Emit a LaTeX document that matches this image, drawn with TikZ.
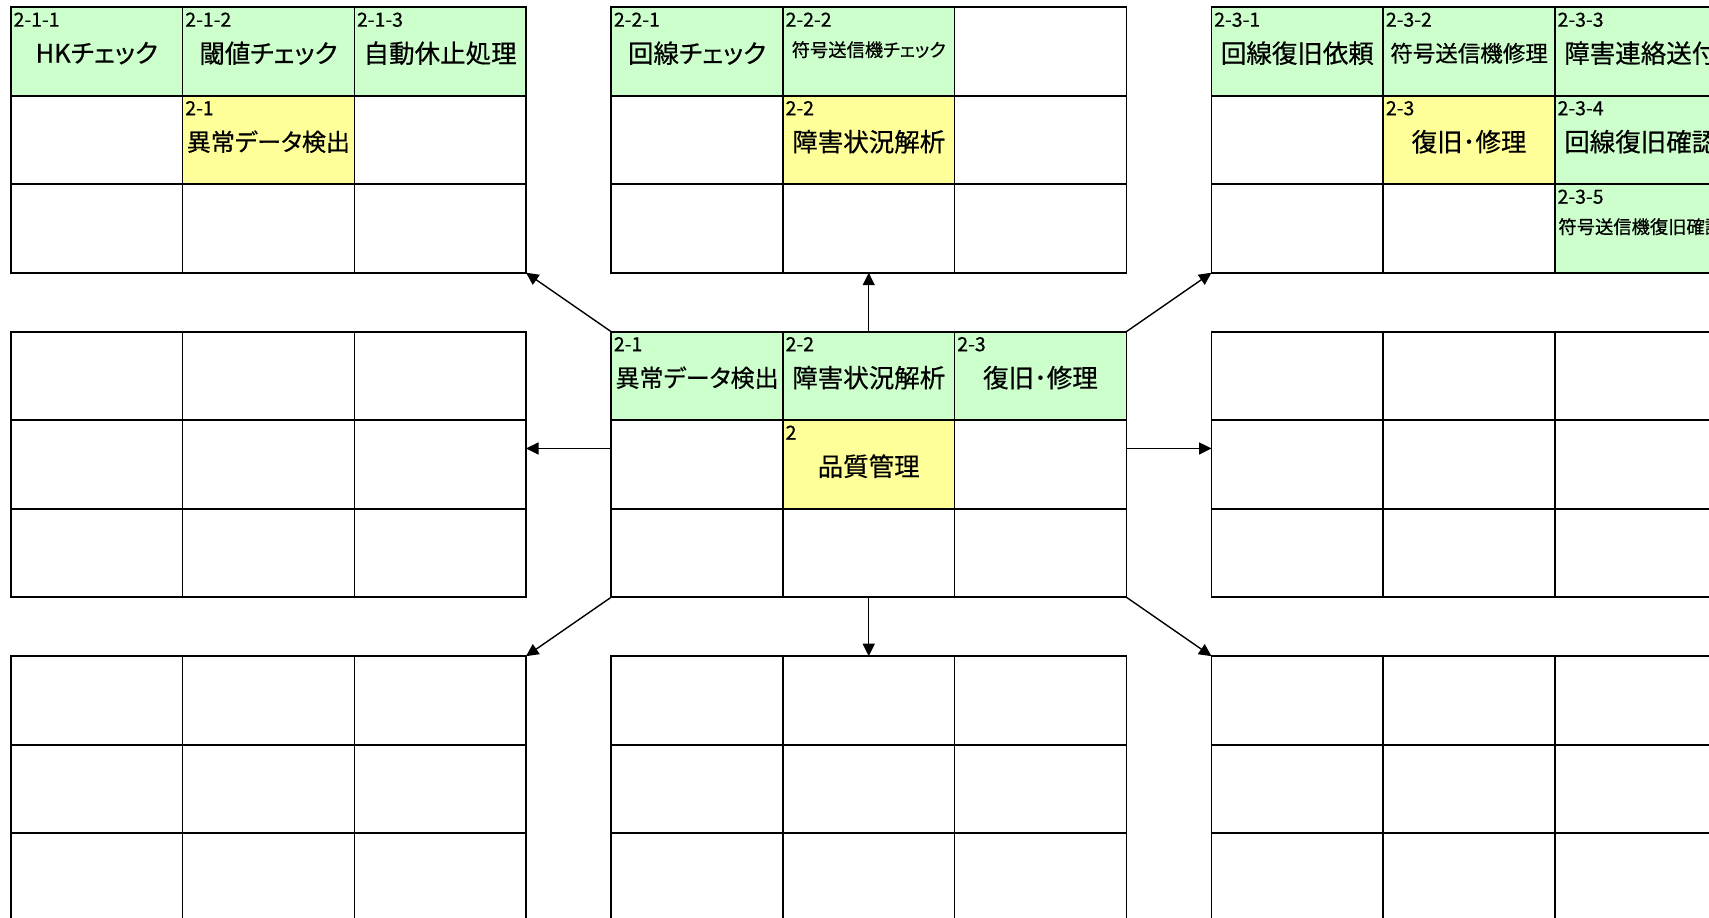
\documentclass[tikz,border=0pt]{standalone}
\usepackage{fontspec}
\setmainfont{Noto Sans CJK JP}[RawFeature={+palt}, FakeBold=0.5]
\usetikzlibrary{arrows.meta}
\definecolor{cgreen}{HTML}{CCFFCC}
\definecolor{cyellow}{HTML}{FFFF99}
\tikzset{
  cellbox/.style={draw=black, line width=1.6pt, minimum width=171.7pt, minimum height=88.5pt,
    inner sep=0pt, outer sep=0pt, anchor=north west},
  gcell/.style={cellbox, fill=cgreen},
  ycell/.style={cellbox, fill=cyellow},
  frame/.style={minimum width=515.1pt, minimum height=265.5pt, inner sep=0pt, outer sep=0pt, anchor=north west},
  lbl/.style={anchor=base west, inner sep=0pt, font=\fontsize{19.5}{20}\selectfont},
  maintxt/.style={anchor=center, inner sep=0pt, font=\fontsize{25.5}{26}\selectfont},
  kanatxt/.style={font=\fontsize{24}{25}\selectfont},
  smalltxt/.style={anchor=center, inner sep=0pt, font=\fontsize{18.3}{19}\selectfont},
  arr/.style={line width=1.4pt, -{Triangle[length=12.5pt, width=12pt]}}
}
\newcommand\colcell[3]{\node[#2] (#1f) at (#1.north west) {};\celllab{#1}{#3}}
\newcommand\celllab[2]{\node[lbl] (#1l) at ([xshift=2.5pt,yshift=-19.5pt]#1.north west) {#2};}
\newcommand\celltxt[3][]{\node[maintxt,#1] (#2t) at ([yshift=-46pt]#2.north) {#3};}
\newcommand\cellstxt[2]{\node[smalltxt] (#1t) at ([yshift=-42.5pt]#1.north) {#2};}
\begin{document}
\begin{tikzpicture}[x=1pt,y=-1pt]
\useasboundingbox (0,0) rectangle (1709,918);
\clip (0,0) rectangle (1709,918);
\fill[white] (0,0) rectangle (1709,918);
\def\W{171.7}\def\H{88.5}
\foreach \g/\x/\y in {A/10.9/7.2, B/611.2/7.2, C/1211.5/7.2,
                      D/10.9/331.7, E/611.2/331.7, F/1211.5/331.7,
                      G/10.9/656.2, H/611.2/656.2, I/1211.5/656.2}{
  \node[frame] (\g) at (\x,\y) {};
  \foreach \r in {1,2,3}{
    \foreach \c in {1,2,3}{
      \node[cellbox] (\g\r\c) at ({\x+(\c-1)*\W},{\y+(\r-1)*\H}) {};
    }
  }
}
% grid A
\colcell{A11}{gcell}{2-1-1}\celltxt{A11}{HKチェック}
\colcell{A12}{gcell}{2-1-2}\celltxt{A12}{閾値チェック}
\colcell{A13}{gcell}{2-1-3}\celltxt{A13}{自動休止処理}
\colcell{A22}{ycell}{2-1}\celltxt[kanatxt]{A22}{異常データ検出}
% grid B
\colcell{B11}{gcell}{2-2-1}\celltxt{B11}{回線チェック}
\colcell{B12}{gcell}{2-2-2}\cellstxt{B12}{符号送信機チェック}
\colcell{B22}{ycell}{2-2}\celltxt{B22}{障害状況解析}
% grid C
\colcell{C11}{gcell}{2-3-1}\celltxt{C11}{回線復旧依頼}
\colcell{C12}{gcell}{2-3-2}\celltxt[font=\fontsize{22.5}{23}\selectfont]{C12}{符号送信機修理}
\colcell{C13}{gcell}{2-3-3}\celltxt{C13}{障害連絡送付}
\colcell{C22}{ycell}{2-3}\celltxt{C22}{復旧･修理}
\colcell{C23}{gcell}{2-3-4}\celltxt{C23}{回線復旧確認}
\colcell{C33}{gcell}{2-3-5}\cellstxt{C33}{符号送信機復旧確認}
% centre grid E
\colcell{E11}{gcell}{2-1}\celltxt[kanatxt]{E11}{異常データ検出}
\colcell{E12}{gcell}{2-2}\celltxt{E12}{障害状況解析}
\colcell{E13}{gcell}{2-3}\celltxt{E13}{復旧･修理}
\colcell{E22}{ycell}{2}\celltxt{E22}{品質管理}
% arrows
\draw[arr] (E.north west) -- (A.south east);
\draw[arr] (E.north) -- (B.south);
\draw[arr] (E.north east) -- (C.south west);
\draw[arr] ([yshift=16pt]E.west) -- ([yshift=16pt]D.east);
\draw[arr] ([yshift=16pt]E.east) -- ([yshift=16pt]F.west);
\draw[arr] (E.south west) -- (G.north east);
\draw[arr] (E.south) -- (H.north);
\draw[arr] (E.south east) -- (I.north west);
\end{tikzpicture}
\end{document}
